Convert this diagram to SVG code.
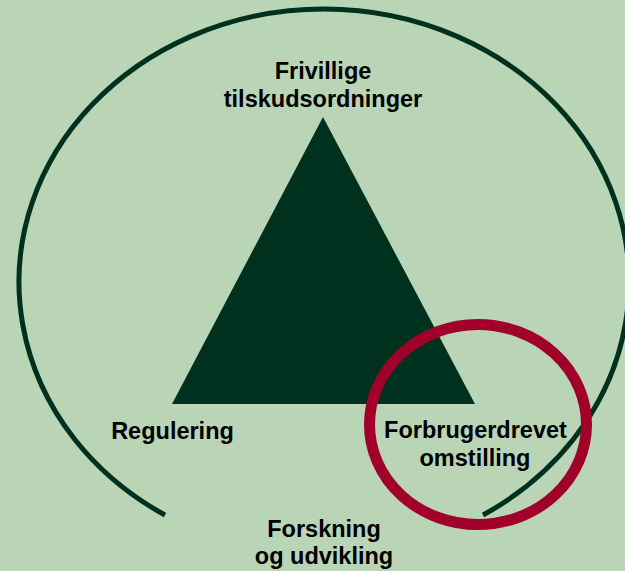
<svg xmlns="http://www.w3.org/2000/svg" width="625" height="571" viewBox="0 0 625 571">
<style>
.lbl{font-family:"Liberation Sans",Arial,sans-serif;font-weight:bold;font-size:23.5px;fill:#000;text-anchor:middle}
</style>
<rect x="0" y="0" width="625" height="571" fill="#B9D5B6"/>
<g id="connectors">
<path id="cycle-arc" d="M 165 515 A 305 273 0 1 1 483 515" fill="none" stroke="#00311F" stroke-width="5"/>
</g>
<g id="triangle">
<polygon points="323,117 475,404 172,404" fill="#00311F"/>
</g>
<g id="node-frivillige">
<text class="lbl" x="323" y="79">Frivillige</text>
<text class="lbl" x="323" y="107">tilskudsordninger</text>
</g>
<g id="node-regulering">
<text class="lbl" x="172.5" y="439">Regulering</text>
</g>
<g id="node-forbruger">
<ellipse cx="478" cy="424.5" rx="108.5" ry="100" fill="none" stroke="#A1002B" stroke-width="11"/>
<text class="lbl" x="475.5" y="438">Forbrugerdrevet</text>
<text class="lbl" x="475" y="466">omstilling</text>
</g>
<g id="node-forskning">
<text class="lbl" x="324" y="537">Forskning</text>
<text class="lbl" x="324" y="564">og udvikling</text>
</g>
</svg>
